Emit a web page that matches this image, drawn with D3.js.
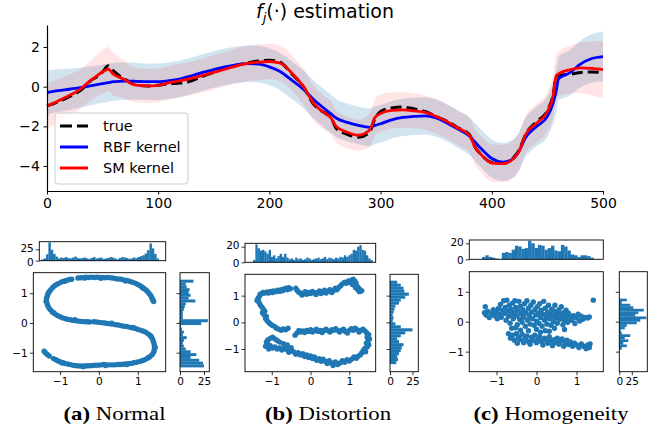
<!DOCTYPE html>
<html><head><meta charset="utf-8">
<script src="https://cdn.jsdelivr.net/npm/d3@7"></script>
<style>body{margin:0;background:#fff}svg{display:block}</style>
</head><body><svg id="c" width="655" height="431"></svg>
<script>
// ---------- main chart data ----------
const tGrid = [0,10,20,30,40,45,50,55,60,65,70,75,80,90,100,110,120,130,140,150,160,170,180,190,200,210,220,230,240,250,255,260,270,280,290,295,300,310,320,330,340,350,360,370,380,385,390,400,410,420,425,430,440,450,455,458,460,470,480,490,500];
const trueVals = [-0.97,-0.76,-0.5,-0.2,0.33,0.5,0.75,1.05,0.78,0.55,0.38,0.2,0.08,0.03,0.07,0.15,0.18,0.3,0.52,0.72,0.92,1.08,1.2,1.3,1.33,1.22,0.65,0.05,-0.9,-1.33,-1.5,-2.1,-2.4,-2.55,-2.3,-1.6,-1.25,-1.08,-1.03,-1.12,-1.25,-1.5,-1.75,-2.08,-2.42,-3.05,-3.4,-3.82,-3.87,-3.55,-3.15,-2.45,-1.78,-1.2,-0.45,0.5,0.58,0.62,0.72,0.74,0.72];
const rbfVals = [-0.3,-0.2,-0.13,-0.05,0.05,0.1,0.15,0.2,0.25,0.27,0.28,0.28,0.27,0.25,0.25,0.3,0.4,0.55,0.72,0.86,1.0,1.1,1.16,1.14,1.0,0.75,0.33,-0.1,-0.66,-1.13,-1.35,-1.58,-1.8,-1.95,-2.05,-1.95,-1.87,-1.67,-1.55,-1.5,-1.47,-1.58,-1.84,-2.15,-2.5,-2.8,-3.1,-3.62,-3.8,-3.6,-3.2,-2.6,-2.02,-1.5,-0.85,-0.2,0.4,0.7,1.15,1.42,1.52];
const smVals = [-0.97,-0.72,-0.45,-0.12,0.35,0.55,0.75,0.88,0.62,0.47,0.35,0.17,0.08,0.04,0.07,0.2,0.3,0.42,0.57,0.72,0.88,1.04,1.17,1.24,1.27,1.18,0.7,0.05,-0.85,-1.35,-1.55,-2.0,-2.3,-2.45,-2.2,-1.55,-1.35,-1.2,-1.17,-1.22,-1.3,-1.5,-1.77,-2.1,-2.45,-3.05,-3.4,-3.85,-3.88,-3.6,-3.2,-2.45,-1.85,-1.25,-0.5,0.55,0.65,0.85,0.95,0.92,0.86];
const rbfHalf = [1.12,1.08,1.04,1.0,0.98,0.97,0.96,0.96,0.95,0.95,0.94,0.94,0.93,0.92,0.92,0.92,0.92,0.92,0.92,0.92,0.92,0.92,0.92,0.93,0.93,0.94,0.95,0.95,0.96,0.96,0.96,0.96,0.95,0.95,0.95,0.95,0.95,0.94,0.94,0.94,0.94,0.94,0.94,0.95,0.95,0.95,0.95,0.96,0.96,0.96,0.97,0.98,1.0,1.02,1.05,1.08,1.1,1.14,1.18,1.22,1.26];
const smHalf = [1.15,1.1,1.05,1.0,1.0,1.05,1.1,1.12,1.08,1.0,0.95,0.9,0.88,0.86,0.85,0.85,0.85,0.85,0.85,0.86,0.87,0.88,0.9,0.9,0.9,0.9,0.9,0.9,0.88,0.86,0.85,0.82,0.8,0.78,0.85,0.92,0.95,0.92,0.9,0.88,0.86,0.86,0.86,0.86,0.88,0.9,0.92,0.94,0.95,0.95,0.95,0.95,0.98,1.0,1.05,1.1,1.12,1.2,1.28,1.36,1.44];
const xTicksMain = [0,100,200,300,400,500];
const yTicksMain = [-4,-2,0,2];
const legendLabels = ["true","RBF kernel","SM kernel"];

// ---------- panel (a) Normal ----------
const aPts = [[1.41,0.72],[1.38,0.80],[1.36,0.86],[1.33,0.93],[1.29,0.99],[1.25,1.06],[1.21,1.11],[1.16,1.16],[1.11,1.21],[1.05,1.26],[0.99,1.30],[0.93,1.34],[0.86,1.37],[0.79,1.40],[0.72,1.43],[0.64,1.45],[0.57,1.47],[0.50,1.48],[0.43,1.49],[0.36,1.51],[0.29,1.52],[0.22,1.53],[0.15,1.52],[0.09,1.53],[0.02,1.53],[-0.05,1.54],[-0.12,1.53],[-0.19,1.54],[-0.26,1.53],[-0.33,1.54],[-0.40,1.52],[-0.47,1.52],[-0.54,1.51],
[-0.70,1.47],[-0.76,1.46],[-0.83,1.43],[-0.90,1.40],[-0.96,1.38],[-1.02,1.34],[-1.08,1.30],[-1.14,1.25],[-1.19,1.19],[-1.24,1.12],[-1.28,1.05],[-1.31,0.98],[-1.33,0.90],[-1.35,0.83],[-1.35,0.75],[-1.34,0.67],[-1.32,0.59],[-1.29,0.51],[-1.25,0.44],[-1.20,0.37],[-1.14,0.31],[-1.07,0.25],[-1.00,0.21],[-0.93,0.17],[-0.86,0.14],[-0.79,0.12],[-0.72,0.10],[-0.65,0.08],[-0.58,0.07],[-0.51,0.06],[-0.44,0.05],[-0.37,0.04],[-0.30,0.04],[-0.24,0.03],
[-0.13,0.04],[-0.06,0.03],[0.01,0.02],[0.08,0.01],[0.15,0.00],[0.22,-0.02],[0.29,-0.03],[0.36,-0.04],[0.43,-0.06],[0.50,-0.07],[0.57,-0.09],[0.64,-0.11],[0.71,-0.12],[0.78,-0.14],[0.85,-0.16],[0.92,-0.18],[0.99,-0.21],[1.06,-0.24],[1.13,-0.27],[1.19,-0.30],[1.25,-0.35],[1.30,-0.40],[1.35,-0.47],[1.38,-0.54],[1.40,-0.62],[1.42,-0.70],[1.43,-0.78],[1.43,-0.86],[1.42,-0.94],[1.40,-1.01],[1.36,-1.08],[1.31,-1.14],[1.25,-1.19],[1.18,-1.24],[1.11,-1.27],[1.04,-1.30],[0.97,-1.32],[0.90,-1.34],[0.83,-1.36],[0.76,-1.37],[0.69,-1.38],[0.62,-1.39],[0.55,-1.40],[0.48,-1.40],[0.41,-1.41],[0.34,-1.41],[0.27,-1.41],[0.20,-1.41],[0.13,-1.40],[0.06,-1.41],[-0.01,-1.42],[-0.08,-1.42],[-0.15,-1.43],[-0.22,-1.44],[-0.29,-1.44],[-0.36,-1.45],[-0.43,-1.45],[-0.50,-1.45],[-0.57,-1.44],[-0.64,-1.43],[-0.71,-1.41],[-0.78,-1.39],[-0.85,-1.37],[-0.92,-1.34],[-0.99,-1.31],[-1.05,-1.28],[-1.11,-1.24],[-1.17,-1.20],
[-1.28,-1.11],[-1.33,-1.06],[-1.38,-1.00],[-1.41,-0.95],
[1.39,0.76],[1.12,1.18],[0.68,1.41],[0.05,1.50],[-0.36,1.51],[-0.87,1.41],[-1.30,1.01],[-1.36,0.72],[-1.17,0.35],[-0.62,0.11],[0.33,-0.01],[0.88,-0.15],[1.33,-0.43],[1.45,-0.82],[1.28,-1.16],[0.72,-1.40],[0.17,-1.43],[-0.40,-1.47],[-0.95,-1.35]];
const aTopCounts = [3,5,14,40,24,15,9,5,7,6,8,6,5,7,9,6,5,6,7,5,4,6,8,5,6,7,4,5,6,8,7,5,3,6,8,7,6,4,5,7,6,8,10,12,16,23,38,27,15,5];
const aTopRange = [-1.45,1.45];
const aRightCounts = [25,24,20,11,17,11,6,4,3,4,7,3,4,2,1,22,29,3,3,3,4,5,6,16,9,11,9,10,7,6,14];
const aRightRange = [-1.49,1.455];

// ---------- panel (b) Distortion ----------
const bPts = [[-1.38,0.82],[-1.35,0.90],[-1.32,0.97],[-1.30,1.05],[-1.25,1.08],[-1.22,1.12],[-1.17,1.10],[-1.12,1.14],[-1.08,1.10],[-1.03,1.16],[-0.98,1.12],[-0.95,1.18],[-0.90,1.15],[-0.85,1.20],[-0.80,1.16],[-0.76,1.22],[-0.72,1.18],[-0.68,1.25],[-0.64,1.28],[-0.60,1.22],[-0.56,1.30],[-0.52,1.26],
[-0.38,1.28],[-0.35,1.20],[-0.31,1.14],[-0.27,1.10],[-0.22,1.02],[-0.18,1.08],[-0.14,1.15],[-0.10,1.05],[-0.05,1.12],[0.00,1.08],[0.05,1.16],[0.10,1.10],[0.14,1.04],[0.18,1.12],[0.23,1.18],[0.27,1.08],[0.32,1.14],[0.36,1.20],[0.40,1.10],[0.45,1.16],[0.50,1.22],[0.55,1.12],[0.60,1.20],[0.64,1.28],[0.68,1.22],[0.72,1.30],[0.77,1.36],[0.82,1.44],[0.88,1.50],[0.93,1.46],[0.98,1.55],[1.02,1.50],[1.06,1.58],[1.10,1.62],[1.14,1.55],[1.17,1.48],[1.12,1.40],[1.20,1.35],[1.24,1.28],[1.28,1.22],[1.32,1.18],[1.26,1.15],[1.22,1.22],[1.16,1.30],[1.08,1.42],
[-1.33,0.75],[-1.30,0.66],[-1.26,0.58],[-1.22,0.50],[-1.18,0.42],[-1.24,0.36],[-1.20,0.28],[-1.14,0.22],[-1.16,0.14],[-1.12,0.06],[-1.08,0.00],[-1.04,-0.06],[-0.98,-0.12],[-0.92,-0.16],[-0.88,-0.22],[-0.82,-0.26],[-0.76,-0.30],[-0.70,-0.25],[-0.64,-0.28],[-0.58,-0.22],
[-0.40,-0.48],[-0.35,-0.40],[-0.30,-0.30],[-0.25,-0.36],[-0.20,-0.32],[-0.15,-0.38],[-0.10,-0.30],[-0.05,-0.34],[0.00,-0.28],[0.05,-0.36],[0.10,-0.32],[0.15,-0.26],[0.20,-0.34],[0.25,-0.30],[0.30,-0.38],[0.35,-0.30],[0.40,-0.26],[0.45,-0.32],[0.50,-0.36],[0.55,-0.28],[0.60,-0.30],[0.65,-0.24],[0.70,-0.30],[0.75,-0.36],[0.80,-0.30],[0.85,-0.26],[0.90,-0.34],[0.95,-0.40],[1.00,-0.30],[1.05,-0.24],[1.10,-0.30],[1.15,-0.22],[1.20,-0.28],[1.25,-0.36],[1.30,-0.30],
[1.35,-0.26],[1.40,-0.32],[1.45,-0.40],[1.50,-0.46],[1.46,-0.55],[1.52,-0.62],[1.48,-0.70],[1.44,-0.78],[1.50,-0.84],[1.46,-0.92],[1.40,-0.98],[1.36,-1.05],[1.42,-1.10],[1.32,-1.15],[1.28,-1.22],[1.22,-1.28],[1.18,-1.35],[1.12,-1.30],[1.06,-1.38],[1.00,-1.45],
[0.94,-1.40],[0.88,-1.50],[0.82,-1.44],[0.76,-1.52],[0.70,-1.58],[0.64,-1.48],[0.58,-1.62],[0.54,-1.52],[0.48,-1.44],[0.43,-1.54],[0.38,-1.46],[0.32,-1.38],[0.27,-1.46],[0.22,-1.36],[0.16,-1.42],[0.10,-1.30],[0.05,-1.36],[0.00,-1.26],[-0.05,-1.32],[-0.10,-1.22],[-0.15,-1.28],[-0.20,-1.18],[-0.26,-1.22],[-0.32,-1.14],[-0.38,-1.20],[-0.44,-1.10],[-0.50,-1.06],[-0.56,-1.12],[-0.62,-1.02],[-0.68,-0.98],[-0.74,-1.04],[-0.80,-0.96],[-0.86,-1.00],[-0.92,-0.92],[-0.98,-0.96],[-1.04,-0.88],[-1.10,-0.82],[-1.14,-0.74],[-1.10,-0.66],[-1.04,-0.60],[-0.98,-0.56],[-0.92,-0.62],[-0.86,-0.68],[-0.80,-0.74],[-1.16,-0.90],[-1.08,-1.00],[-0.70,-0.80],[-0.60,-0.85],[-0.50,-0.95]];
const bTopCounts = [3,23,18,15,16,14,11,16,7,9,5,8,11,7,11,6,4,5,3,6,4,5,3,4,6,5,3,4,5,6,4,5,7,4,6,5,4,6,5,7,6,9,7,9,11,16,15,20,22,16,15,9,5,3];
const bTopRange = [-1.48,1.6];
const bRightCounts = [7,9,8,10,12,13,15,10,8,12,17,25,12,6,3,4,3,4,5,6,10,12,17,21,16,15,12,8];
const bRightRange = [-1.56,1.56];

// ---------- panel (c) Homogeneity ----------
const cPts = [[-1.30,0.30],[-1.26,0.22],[-1.22,0.34],[-1.18,0.14],[-1.28,0.50],[-1.12,0.28],[-1.08,0.40],[-1.05,0.20],[-1.00,0.32],[-0.98,0.10],[-0.95,0.44],[-0.92,0.25],[-0.90,0.58],[-0.88,0.15],[-0.85,0.38],[-0.82,0.70],[-0.80,0.28],[-0.78,0.48],[-0.76,0.05],[-0.74,0.72],[-0.72,0.35],[-0.70,0.18],[-0.68,0.55],[-0.66,-0.05],[-0.64,0.42],[-0.62,0.25],[-0.60,0.62],[-0.58,0.10],[-0.56,0.32],[-0.54,0.70],[-0.52,0.48],[-0.50,0.20],[-0.48,-0.10],[-0.46,0.36],[-0.44,0.68],[-0.42,0.08],[-0.40,0.52],[-0.38,0.26],[-0.36,-0.02],[-0.34,0.40],[-0.32,0.15],[-0.30,0.60],[-0.28,-0.15],[-0.26,0.30],[-0.24,0.70],[-0.22,0.05],[-0.20,0.45],[-0.18,0.20],[-0.16,-0.08],[-0.14,0.55],[-0.12,0.32],[-0.10,0.10],[-0.08,0.66],[-0.06,-0.12],[-0.04,0.40],[-0.02,0.22],[0.00,0.02],[0.02,0.50],[0.04,0.28],[0.06,-0.05],[0.08,0.60],[0.10,0.14],[0.12,0.38],[0.14,-0.15],[0.16,0.25],[0.18,0.68],[0.20,0.05],[0.22,0.45],[0.24,0.18],[0.26,-0.08],[0.28,0.32],[0.30,0.55],[0.32,0.10],[0.34,0.26],[0.36,-0.12],[0.38,0.42],[0.40,0.18],[0.42,0.00],[0.44,0.35],[0.46,0.55],[0.48,0.12],[0.50,0.28],[0.52,-0.05],[0.54,0.20],[0.56,0.40],[0.58,0.08],[0.60,0.25],[0.62,0.50],[0.64,0.15],[0.66,-0.10],[0.68,0.30],[0.70,0.05],[0.72,0.22],[0.74,0.38],[0.76,0.12],[0.78,-0.02],[0.80,0.28],[0.84,0.15],[0.88,0.05],[0.92,0.20],[0.96,-0.06],[1.00,0.12],[1.04,0.25],[1.08,0.02],[1.12,0.18],[1.16,0.08],[1.22,0.14],[1.28,0.12],[1.32,0.16],[1.42,0.72],
[-0.70,-0.40],[-0.65,-0.55],[-0.60,-0.45],[-0.55,-0.62],[-0.50,-0.40],[-0.48,-0.72],[-0.45,-0.52],[-0.40,-0.60],[-0.36,-0.42],[-0.32,-0.70],[-0.28,-0.55],[-0.24,-0.48],[-0.20,-0.66],[-0.16,-0.75],[-0.12,-0.52],[-0.08,-0.62],[-0.04,-0.45],[0.00,-0.70],[0.04,-0.58],[0.08,-0.50],[0.12,-0.66],[0.16,-0.78],[0.20,-0.55],[0.24,-0.62],[0.28,-0.72],[0.32,-0.50],[0.36,-0.65],[0.40,-0.80],[0.44,-0.60],[0.48,-0.70],[0.52,-0.55],[0.56,-0.75],[0.60,-0.66],[0.64,-0.58],[0.68,-0.82],[0.72,-0.70],[0.76,-0.62],[0.80,-0.76],[0.85,-0.68],[0.90,-0.82],[0.95,-0.72],[1.00,-0.78],[1.06,-0.86],[1.12,-0.74],[1.18,-0.82],[1.24,-0.90],[1.28,-0.78],[1.32,-0.86],[1.34,-0.74],
[-0.62,-0.22],[-0.40,-0.28],[-0.20,-0.30],[0.00,-0.25],[0.22,-0.30],[0.45,-0.22],[0.70,-0.26],[-0.52,-0.20],[0.10,-0.35],[0.32,-0.32]];
const cTopCounts = [3,5,3,2,1,0,8,9,8,12,17,16,13,14,23,20,14,18,17,12,14,17,11,10,18,16,11,6,5,3,5,5,4,2];
const cTopRange = [-1.36,1.43];
const cRightCounts = [5,15,8,18,11,22,5,3,11,15,35,42,54,32,38,49,28,22,5,15];
const cRightRange = [-0.93,0.77];

const captions = [["(a)"," Normal"],["(b)"," Distortion"],["(c)"," Homogeneity"]];

// ---------- drawing ----------
const svg = d3.select("#c");
const C0 = "#1f77b4";
const SANS = "DejaVu Sans, sans-serif";

// main chart
const M = {l:47, r:603, t:25, b:191};
const x = d3.scaleLinear().domain([0,500]).range([M.l, M.r]);
const y = d3.scaleLinear().domain([-5.26,3.11]).range([M.b, M.t]);
const idx = d3.range(tGrid.length);

const band = (vals, half) => d3.area().x(i=>x(tGrid[i])).y0(i=>y(vals[i]-half[i])).y1(i=>y(vals[i]+half[i])).curve(d3.curveMonotoneX);
const line = vals => d3.line().x(i=>x(tGrid[i])).y(i=>y(vals[i])).curve(d3.curveMonotoneX);

const main = svg.append("g");
main.append("path").attr("d", band(rbfVals, rbfHalf)(idx)).attr("fill","rgba(31,119,180,0.2)");
main.append("path").attr("d", band(smVals, smHalf)(idx)).attr("fill","rgba(255,0,0,0.1)");
main.append("path").attr("d", line(trueVals)(idx)).attr("fill","none").attr("stroke","#000").attr("stroke-width",3).attr("stroke-dasharray","11,5");
main.append("path").attr("d", line(rbfVals)(idx)).attr("fill","none").attr("stroke","#0000ff").attr("stroke-width",2.8);
main.append("path").attr("d", line(smVals)(idx)).attr("fill","none").attr("stroke","#ff0000").attr("stroke-width",2.8);

const ax = main.append("g").attr("transform",`translate(0,${M.b})`).call(d3.axisBottom(x).tickValues(xTicksMain).tickSize(3.5).tickPadding(3.5).tickSizeOuter(0));
const ay = main.append("g").attr("transform",`translate(${M.l},0)`).call(d3.axisLeft(y).tickValues(yTicksMain).tickSize(3.5).tickPadding(3.5).tickSizeOuter(0));
[ax,ay].forEach(a=>{a.selectAll("text").attr("font-family",SANS).attr("font-size",14).attr("fill","#000");a.select(".domain").attr("stroke-width",1.2);});

// legend
const lg = main.append("g");
lg.append("rect").attr("x",55).attr("y",113).attr("width",133).attr("height",71).attr("rx",3).attr("fill","rgba(255,255,255,0.8)").attr("stroke","#cccccc").attr("stroke-width",1);
const legStyles = [{c:"#000",d:"12,5"},{c:"#0000ff",d:null},{c:"#ff0000",d:null}];
legendLabels.forEach((lab,i)=>{
  const yy = 126 + i*21;
  const l = lg.append("line").attr("x1",60).attr("x2",88).attr("y1",yy).attr("y2",yy).attr("stroke",legStyles[i].c).attr("stroke-width",3);
  if (legStyles[i].d) l.attr("stroke-dasharray",legStyles[i].d);
  lg.append("text").attr("x",103).attr("y",yy+5).attr("font-family",SANS).attr("font-size",14.5).text(lab);
});

// title
const tt = svg.append("text").attr("x",325).attr("y",18).attr("text-anchor","middle").attr("font-family",SANS).attr("font-size",19);
tt.append("tspan").attr("font-style","italic").text("f");
tt.append("tspan").attr("font-style","italic").attr("font-size",13).attr("dy",4).text("j");
tt.append("tspan").attr("dy",-4).text("(·) estimation");

// small panels
function styleAxis(g){
  g.selectAll("text").attr("font-family",SANS).attr("font-size",10.5).attr("fill","#000");
  g.select(".domain").remove();
  g.selectAll(".tick line").attr("stroke-width",0.8);
}
function box(x0,y0,x1,y1){
  svg.append("rect").attr("x",x0).attr("y",y0).attr("width",x1-x0).attr("height",y1-y0).attr("fill","none").attr("stroke","#000").attr("stroke-width",0.9);
}
function panel(p){
  // scatter
  const sx = d3.scaleLinear().domain(p.sxDom).range([p.sx0,p.sx1]);
  const sy = d3.scaleLinear().domain(p.syDom).range([p.sy1,p.sy0]);
  const g = svg.append("g");
  g.selectAll("circle").data(p.pts).join("circle").attr("cx",d=>sx(d[0])).attr("cy",d=>sy(d[1])).attr("r",2.7).attr("fill",C0);
  styleAxis(g.append("g").attr("transform",`translate(0,${p.sy1})`).call(d3.axisBottom(sx).tickValues([-1,0,1]).tickFormat(d3.format("d")).tickSize(3.5).tickPadding(2)));
  styleAxis(g.append("g").attr("transform",`translate(${p.sx0},0)`).call(d3.axisLeft(sy).tickValues([-1,0,1]).tickFormat(d3.format("d")).tickSize(3.5).tickPadding(2)));
  box(p.sx0,p.sy0,p.sx1,p.sy1);
  // top hist
  const hx = d3.scaleLinear().domain(p.txDom).range([p.tx0,p.tx1]);
  const hy = d3.scaleLinear().domain([0,p.tyMax]).range([p.ty1,p.ty0]);
  const tw = (p.topRange[1]-p.topRange[0])/p.topCounts.length;
  const gt = svg.append("g");
  gt.selectAll("rect").data(p.topCounts).join("rect")
    .attr("x",(d,i)=>hx(p.topRange[0]+i*tw)).attr("width",(d,i)=>hx(p.topRange[0]+(i+1)*tw)-hx(p.topRange[0]+i*tw)+0.15)
    .attr("y",d=>hy(d)).attr("height",d=>p.ty1-hy(d)).attr("fill",C0);
  const tyAx = gt.append("g").attr("transform",`translate(${p.tx0},0)`).call(d3.axisLeft(hy).tickValues(p.tyTicks).tickSize(3.5).tickPadding(2));
  styleAxis(tyAx);
  tyAx.selectAll(".tick text").attr("dy",(d)=> d===0 ? "0.42em" : "0.2em");
  box(p.tx0,p.ty0,p.tx1,p.ty1);
  // right hist
  const rx = d3.scaleLinear().domain([0,p.rxMax]).range([p.rx0,p.rx1]);
  const rh = (p.rightRange[1]-p.rightRange[0])/p.rightCounts.length;
  const gr = svg.append("g");
  gr.selectAll("rect").data(p.rightCounts).join("rect")
    .attr("y",(d,i)=>sy(p.rightRange[0]+(i+1)*rh)).attr("height",(d,i)=>sy(p.rightRange[0]+i*rh)-sy(p.rightRange[0]+(i+1)*rh)+0.15)
    .attr("x",p.rx0).attr("width",d=>rx(d)-p.rx0).attr("fill",C0);
  styleAxis(gr.append("g").attr("transform",`translate(0,${p.sy1})`).call(d3.axisBottom(rx).tickValues([0,25]).tickSize(3.5).tickPadding(2)));
  styleAxis(gr.append("g").attr("transform",`translate(${p.rx0},0)`).call(d3.axisLeft(sy).tickValues([-1,0,1]).tickFormat("").tickSize(3.5)));
  box(p.rx0,p.sy0,p.rx1,p.sy1);
  // caption
  const cap = svg.append("text").attr("transform",`translate(${p.capX},419.5) scale(1.17,1)`).attr("text-anchor","middle")
    .attr("font-family","Liberation Serif, Times New Roman, serif").attr("font-size",19.5).attr("fill","#000");
  cap.append("tspan").attr("font-weight","bold").text(p.cap[0]);
  cap.append("tspan").text(p.cap[1]);
}

panel({pts:aPts, sx0:33.3, sx1:165.7, sy0:272.7, sy1:371.7, sxDom:[-1.69,1.72], syDom:[-1.64,1.69],
  tx0:39.3, tx1:165.7, ty0:241.7, ty1:260.7, txDom:[-1.5,1.62], tyMax:41.7, tyTicks:[0,25], topCounts:aTopCounts, topRange:aTopRange,
  rx0:180, rx1:209.3, rxMax:30.5, rightCounts:aRightCounts, rightRange:aRightRange, capX:114.5, cap:captions[0]});
panel({pts:bPts, sx0:245, sx1:375.7, sy0:274.3, sy1:371.7, sxDom:[-1.69,1.68], syDom:[-1.85,1.8],
  tx0:245, tx1:375.7, ty0:243.3, ty1:262.3, txDom:[-1.69,1.68], tyMax:24.4, tyTicks:[0,20], topCounts:bTopCounts, topRange:bTopRange,
  rx0:390, rx1:418.3, rxMax:31.5, rightCounts:bRightCounts, rightRange:bRightRange, capX:328, cap:captions[1]});
panel({pts:cPts, sx0:469.3, sx1:603.3, sy0:271.7, sy1:371.7, sxDom:[-1.68,1.67], syDom:[-1.67,1.67],
  tx0:469.3, tx1:603.3, ty0:240, ty1:259.3, txDom:[-1.68,1.67], tyMax:24.1, tyTicks:[0,20], topCounts:cTopCounts, topRange:cTopRange,
  rx0:619.3, rx1:647.3, rxMax:56, rightCounts:cRightCounts, rightRange:cRightRange, capX:551, cap:captions[2]});
</script>
</body></html>
